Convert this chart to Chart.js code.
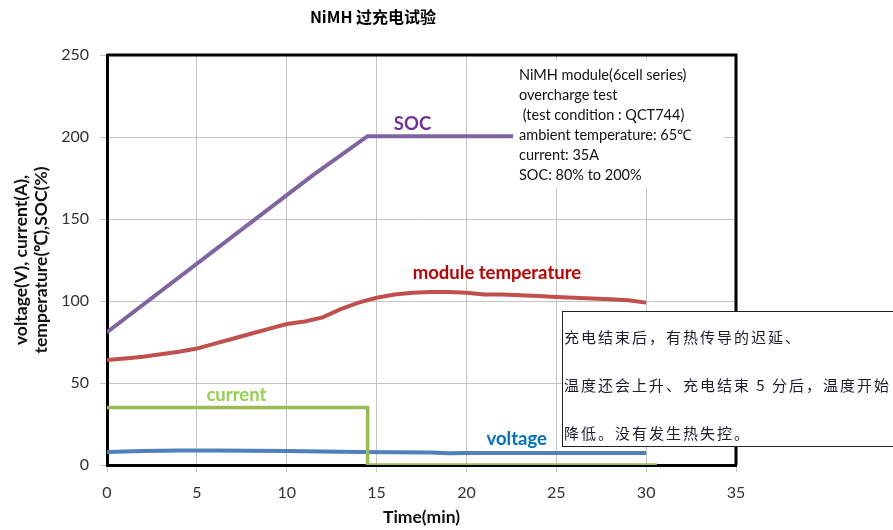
<!DOCTYPE html>
<html>
<head>
<meta charset="utf-8">
<script src="https://cdn.jsdelivr.net/npm/chart.js@4.4.1/dist/chart.umd.min.js"></script>
<style>
  html, body { margin: 0; padding: 0; background: #fff; }
  #wrap { width: 893px; height: 530px; }
</style>
</head>
<body>
<div id="wrap"><canvas id="chart" width="893" height="530"></canvas></div>
<script>
// values
const socTime = [0, 11.5, 14.5, 22.6];
const socValue = [81, 177, 200.5, 200.5];

const tempTime = [0, 1, 2, 3, 4, 5, 6, 7, 8, 9, 10, 11, 12, 13, 14, 15, 16, 17, 18, 19, 20, 21, 22, 23, 24, 25, 26, 27, 28, 29, 30];
const tempValue = [64, 65, 66, 67.5, 69, 71, 74, 77, 80, 83, 86, 87.5, 90, 95, 99, 102, 104, 105, 105.5, 105.5, 105, 104, 104, 103.5, 103, 102.5, 102, 101.5, 101, 100.5, 99];

const currentTime = [0, 14.5, 14.5, 30.6];
const currentValue = [35, 35, 0, 0];

const voltTime = [0, 2, 4, 6, 8, 10, 12, 14, 16, 18, 19, 20, 22, 24, 26, 28, 30];
const voltValue = [8, 8.5, 8.8, 8.8, 8.7, 8.5, 8.3, 8, 7.8, 7.6, 7.2, 7.3, 7.3, 7.3, 7.3, 7.3, 7.3];

const xTicks = [0, 5, 10, 15, 20, 25, 30, 35];
const yTicks = [0, 50, 100, 150, 200, 250];

const seriesLabels = [
  { text: 'SOC', x: 17.0, y: 208, color: '#7030A0' },
  { text: 'module temperature', x: 21.7, y: 117, color: '#C00000' },
  { text: 'current', x: 7.2, y: 42.7, color: '#92D050' },
  { text: 'voltage', x: 22.8, y: 15.9, color: '#0070C0' }
];

const noteLines = ['NiMH module(6cell series)', 'overcharge test', ' (test condition : QCT744)', 'ambient temperature: 65\u2103', 'current: 35A', 'SOC: 80% to 200%'];
const cnLines = ['充电结束后，有热传导的迟延、', '温度还会上升、充电结束 5 分后，温度开始', '降低。没有发生热失控。'];

const pts = (xs, ys) => xs.map((x, i) => ({ x, y: ys[i] }));
const line = (data, color, width) => ({
  data, borderColor: color, borderWidth: width, pointRadius: 0, tension: 0, fill: false
});

const decor = {
  id: 'decor',
  beforeDatasetsDraw(chart) {
    const { ctx, chartArea: a } = chart;
    ctx.save();
    // white note box over the grid
    ctx.fillStyle = '#fff';
    ctx.fillRect(510, 60, 214, 128);
    ctx.font = '14.5px Lato';
    ctx.fillStyle = '#111';
    ctx.textBaseline = 'middle';
    noteLines.forEach((t, i) => ctx.fillText(t, 519, 75 + i * 20));
    // top and right frame
    ctx.strokeStyle = '#000';
    ctx.lineWidth = 3;
    ctx.beginPath();
    ctx.moveTo(a.left, a.top); ctx.lineTo(a.right, a.top); ctx.lineTo(a.right, a.bottom);
    ctx.stroke();
    ctx.restore();
  },
  afterDraw(chart) {
    const { ctx, scales } = chart;
    ctx.save();
    ctx.textBaseline = 'middle';
    ctx.textAlign = 'center';
    ctx.font = 'bold 16px "Noto Sans CJK SC"';
    ctx.fillStyle = '#000';
    ctx.fillText('NiMH 过充电试验', 373, 17);
    ctx.font = 'bold 18.5px Lato';
    seriesLabels.forEach(l => {
      ctx.fillStyle = l.color;
      ctx.fillText(l.text, scales.x.getPixelForValue(l.x), scales.y.getPixelForValue(l.y));
    });
    // chinese comment box
    ctx.fillStyle = '#fff';
    ctx.fillRect(562, 311, 340, 135);
    ctx.strokeStyle = '#222';
    ctx.lineWidth = 1;
    ctx.strokeRect(562.5, 311.5, 340, 135);
    ctx.textAlign = 'left';
    ctx.fillStyle = '#1c1c28';
    ctx.font = '15px "Noto Sans CJK SC"';
    ctx.letterSpacing = '2px';
    cnLines.forEach((t, i) => ctx.fillText(t, 564, 337 + i * 48));
    ctx.restore();
  }
};

new Chart(document.getElementById('chart'), {
  type: 'line',
  data: {
    datasets: [
      line(pts(socTime, socValue), '#8064A2', 4),
      line(pts(tempTime, tempValue), '#C0504D', 4),
      line(pts(currentTime, currentValue), '#9BBB59', 3.5),
      line(pts(voltTime, voltValue), '#4F81BD', 4)
    ]
  },
  options: {
    responsive: false,
    devicePixelRatio: 1,
    animation: false,
    layout: { padding: { top: 55, right: 157, left: 0, bottom: 0 } },
    plugins: { legend: { display: false }, tooltip: { enabled: false } },
    scales: {
      x: {
        type: 'linear',
        min: 0, max: 35,
        afterFit: s => { s.height = 65; },
        afterBuildTicks: s => { s.ticks = xTicks.map(v => ({ value: v })); },
        grid: { color: '#c4c4c4', lineWidth: 1, tickLength: 7 },
        border: { color: '#000', width: 3 },
        ticks: { color: '#333', font: { family: 'Lato', size: 16 }, padding: 11, maxRotation: 0 },
        title: { display: true, text: 'Time(min)', color: '#111', font: { family: 'Lato', size: 17.5, weight: 'bold' }, padding: { top: 0, bottom: 2 } }
      },
      y: {
        min: 0, max: 250,
        afterFit: s => { s.width = 107; },
        afterBuildTicks: s => { s.ticks = yTicks.map(v => ({ value: v })); },
        grid: { color: '#c4c4c4', lineWidth: 1, tickLength: 7 },
        border: { color: '#000', width: 3 },
        ticks: { color: '#333', font: { family: 'Lato', size: 16 }, padding: 11 },
        title: { display: true, text: ['voltage(V), current(A),', 'temperature(\u2103),SOC(%)'], color: '#111', font: { family: 'Lato', size: 17.5, weight: 'bold', lineHeight: 1.15 }, padding: { top: 11, bottom: 0 } }
      }
    }
  },
  plugins: [decor]
});
</script>
</body>
</html>
